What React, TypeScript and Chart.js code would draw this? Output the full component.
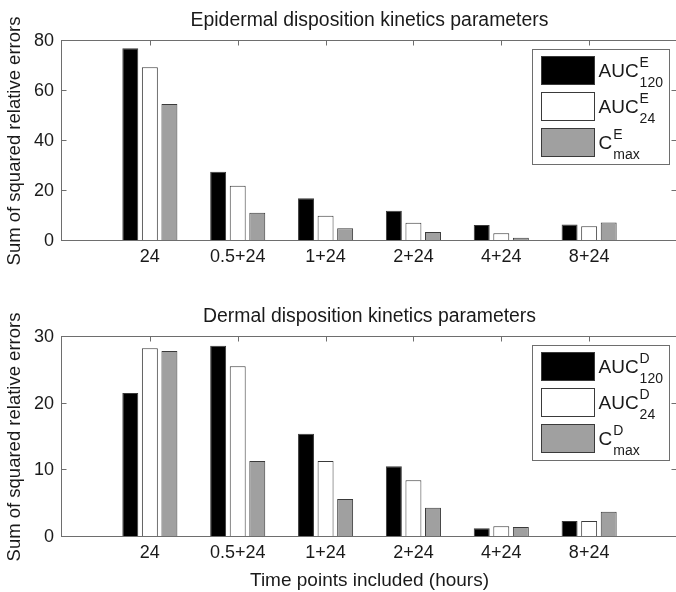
import { useEffect, useRef } from 'react';
import { Chart, registerables } from 'chart.js';

Chart.register(...registerables);

// ---- data ----
const categories = ['24', '0.5+24', '1+24', '2+24', '4+24', '8+24'];

const epiAUC120 = [77.1, 27.7, 17.1, 12.1, 6.4, 6.6];
const epiAUC24 = [69.5, 22.1, 10.1, 7.3, 3.1, 5.9];
const epiCmax = [54.8, 11.3, 5.1, 3.6, 1.3, 7.4];

const derAUC120 = [21.6, 28.7, 15.5, 10.6, 1.3, 2.4];
const derAUC24 = [28.3, 25.6, 11.4, 8.5, 1.6, 2.4];
const derCmax = [27.9, 11.4, 5.7, 4.4, 1.5, 3.8];

const epiTicks = [0, 20, 40, 60, 80];
const derTicks = [0, 10, 20, 30];

const legendBase = ['AUC', 'AUC', 'C'];
const legendSub = ['120', '24', 'max'];
const epiSup = 'E';
const derSup = 'D';

const epiTitle = 'Epidermal disposition kinetics parameters';
const derTitle = 'Dermal disposition kinetics parameters';
const yTitle = 'Sum of squared relative errors';
const xTitle = 'Time points included (hours)';

// ---- styles ----
const FONT = '"Liberation Sans", Arial, Helvetica, sans-serif';
const TEXT = '#1a1a1a';
const barFill = ['#000000', '#ffffff', '#a0a0a0'];
const barEdge = '#3a3a3a';
const frameColor = '#6e6e6e';

Chart.defaults.font.family = FONT;

function frameGeom(chart: any) {
  const a = chart.chartArea;
  return {
    L: Math.round(a.left) - 0.5,
    R: Math.round(a.right) - 0.5,
    T: Math.round(a.top) - 0.5,
    B: Math.round(a.bottom) - 0.5,
  };
}

const framePlugin = {
  id: 'matlabFrame',
  beforeDatasetsDraw(chart: any) {
    const { ctx, scales } = chart;
    const xs = scales.x;
    const ys = scales.y;
    const { L, R, T, B } = frameGeom(chart);
    ctx.save();
    ctx.strokeStyle = frameColor;
    ctx.lineWidth = 1;
    const tl = 5;
    ctx.beginPath();
    xs.ticks.forEach((t: any, i: number) => {
      const lbl = xs.getLabelForValue(t.value);
      if (!lbl) return;
      const px = Math.round(xs.getPixelForTick(i)) + 0.5;
      ctx.moveTo(px, T);
      ctx.lineTo(px, T + tl);
      ctx.moveTo(px, B);
      ctx.lineTo(px, B - tl);
    });
    ys.ticks.forEach((t: any) => {
      const py = Math.round(ys.getPixelForValue(t.value)) - 0.5;
      ctx.moveTo(L, py);
      ctx.lineTo(L + tl, py);
      ctx.moveTo(R, py);
      ctx.lineTo(R - tl, py);
    });
    ctx.stroke();
    ctx.restore();
  },
  afterDraw(chart: any, _args: any, opts: any) {
    const { ctx, chartArea: a } = chart;
    const { L, R, T, B } = frameGeom(chart);
    ctx.save();

    // title
    ctx.fillStyle = TEXT;
    ctx.font = `19.4px ${FONT}`;
    ctx.textAlign = 'center';
    ctx.textBaseline = 'middle';
    ctx.fillText(opts.title, (a.left + a.right) / 2, 21);

    // frame box
    ctx.strokeStyle = frameColor;
    ctx.lineWidth = 1;
    ctx.strokeRect(L, T, R - L, B - T);

    // legend
    const lw = 137;
    const lh = 115;
    const lx = Math.round(a.right) - 8 - lw + 0.5;
    const ly = Math.round(a.top) + 8 + 0.5;
    ctx.fillStyle = '#ffffff';
    ctx.fillRect(lx, ly, lw, lh);
    ctx.strokeStyle = frameColor;
    ctx.strokeRect(lx, ly, lw, lh);

    chart.data.datasets.forEach((ds: any, i: number) => {
      const cy = ly + 21 + i * 36;
      ctx.fillStyle = ds.backgroundColor;
      ctx.fillRect(lx + 9, cy - 14, 53, 28);
      ctx.strokeStyle = barEdge;
      ctx.strokeRect(lx + 9, cy - 14, 53, 28);

      ctx.fillStyle = TEXT;
      ctx.textAlign = 'left';
      ctx.textBaseline = 'alphabetic';
      ctx.font = `19px ${FONT}`;
      const base = opts.base[i];
      const tx = lx + 66;
      ctx.fillText(base, tx, cy + 6.7);
      const w = ctx.measureText(base).width;
      ctx.font = `14px ${FONT}`;
      ctx.fillText(opts.sup, tx + w + 1, cy - 3.3);
      ctx.fillText(opts.sub[i], tx + w + 1, cy + 16);
    });

    ctx.restore();
  },
};

function makeConfig(title: string, series: number[][], ticks: number[], sup: string, withXTitle: boolean): any {
  return {
    type: 'bar',
    data: {
      labels: ['', ...categories, ''],
      datasets: series.map((vals, i) => ({
        label: `${legendBase[i]}^${sup}_${legendSub[i]}`,
        data: [null, ...vals, null],
        backgroundColor: barFill[i],
        borderColor: barEdge,
        borderWidth: 1,
        borderSkipped: false,
        categoryPercentage: 0.668,
        barPercentage: 0.815,
      })),
    },
    options: {
      animation: false,
      responsive: false,
      devicePixelRatio: 1,
      layout: { padding: { top: 41, right: 1, left: 0, bottom: 0 } },
      plugins: {
        legend: { display: false },
        title: { display: false },
        tooltip: { enabled: false },
        matlabFrame: { title, sup, base: legendBase, sub: legendSub },
      },
      scales: {
        x: {
          offset: false,
          grid: { display: false, drawTicks: false },
          border: { display: false },
          ticks: {
            font: { family: FONT, size: 18 },
            color: TEXT,
            padding: 5,
            maxRotation: 0,
            minRotation: 0,
            autoSkip: false,
          },
          title: withXTitle
            ? { display: true, text: xTitle, font: { family: FONT, size: 19 }, color: TEXT, padding: { top: 0, bottom: 0 } }
            : { display: false },
          afterFit: (s: any) => {
            s.height = 55;
            s.paddingLeft = 0;
            s.paddingRight = 0;
          },
        },
        y: {
          min: ticks[0],
          max: ticks[ticks.length - 1],
          grid: { display: false, drawTicks: false },
          border: { display: false },
          ticks: {
            font: { family: FONT, size: 18 },
            color: TEXT,
            padding: 8,
          },
          afterBuildTicks: (s: any) => {
            s.ticks = ticks.map((v) => ({ value: v }));
          },
          title: {
            display: true,
            text: yTitle,
            font: { family: FONT, size: 18.5 },
            color: TEXT,
            padding: { top: 4, bottom: 0 },
          },
          afterFit: (s: any) => {
            s.width = 62;
          },
        },
      },
    },
    plugins: [framePlugin],
  };
}

export default function App() {
  const topRef = useRef<HTMLCanvasElement>(null);
  const botRef = useRef<HTMLCanvasElement>(null);

  useEffect(() => {
    const c1 = new Chart(
      topRef.current as HTMLCanvasElement,
      makeConfig(epiTitle, [epiAUC120, epiAUC24, epiCmax], epiTicks, epiSup, false)
    );
    const c2 = new Chart(
      botRef.current as HTMLCanvasElement,
      makeConfig(derTitle, [derAUC120, derAUC24, derCmax], derTicks, derSup, true)
    );
    return () => {
      c1.destroy();
      c2.destroy();
    };
  }, []);

  return (
    <div
      style={{
        position: 'absolute',
        left: 0,
        top: 0,
        width: 676,
        height: 592,
        overflow: 'hidden',
        background: '#ffffff',
      }}
    >
      <canvas ref={topRef} width={678} height={296} style={{ display: 'block' }} />
      <canvas ref={botRef} width={678} height={296} style={{ display: 'block' }} />
    </div>
  );
}
